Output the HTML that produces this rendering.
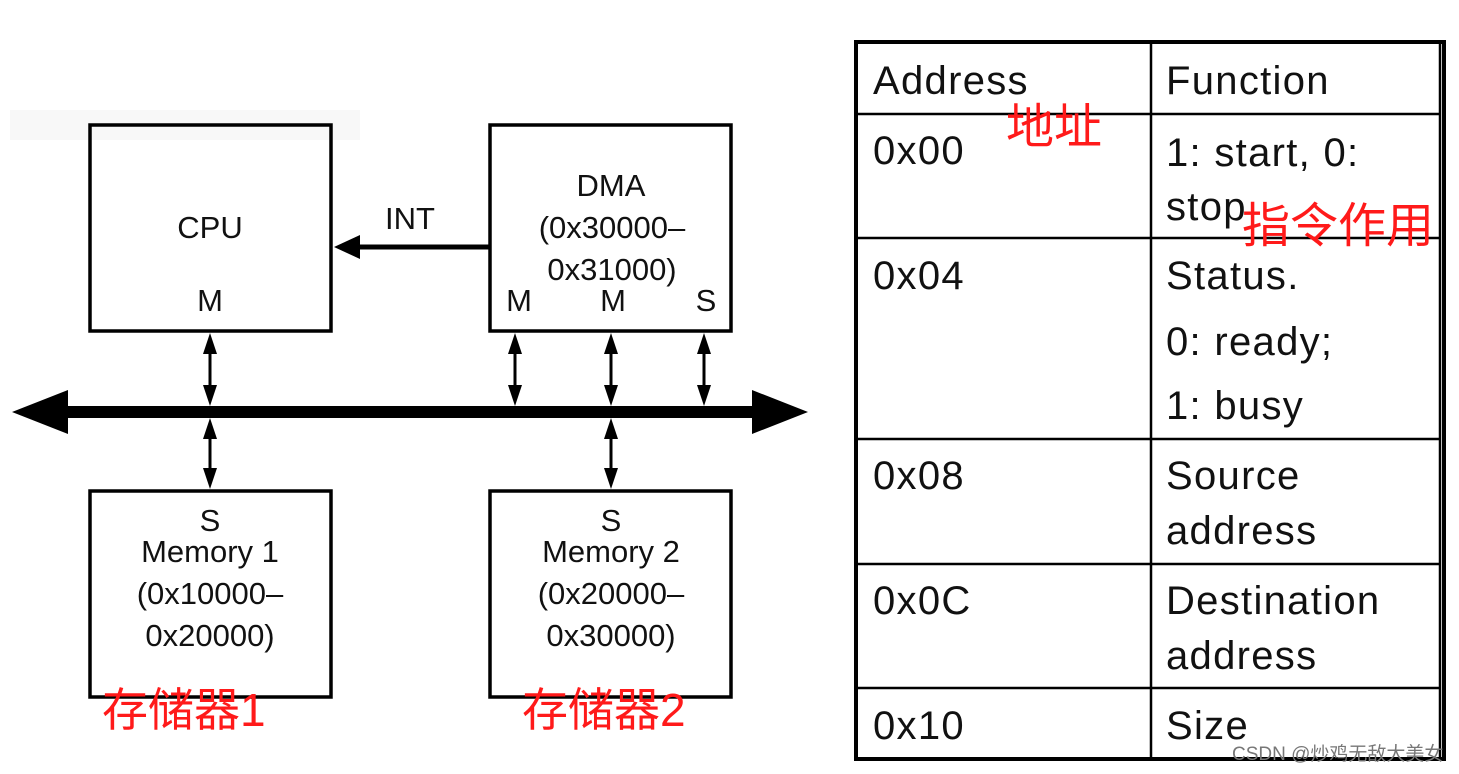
<!DOCTYPE html>
<html><head><meta charset="utf-8"><style>
html,body{margin:0;padding:0;background:#fff;}
svg{display:block;}
text{font-family:"Liberation Sans","Noto Sans CJK SC",sans-serif;}
</style></head><body>
<svg width="1459" height="774" viewBox="0 0 1459 774" xmlns="http://www.w3.org/2000/svg">
<rect x="0" y="0" width="1459" height="774" fill="#fff"/>
<rect x="10" y="110" width="350" height="30" fill="#f3f3f3" opacity="0.6"/>
<g fill="none" stroke="#000" stroke-width="3.5">
<rect x="90" y="125" width="241" height="206"/>
<rect x="490" y="125" width="241" height="206"/>
<rect x="90" y="491" width="241" height="206"/>
<rect x="490" y="491" width="241" height="206"/>
</g>
<rect x="60" y="406" width="700" height="12" fill="#000"/>
<polygon points="12,412 68,390 68,434" fill="#000"/>
<polygon points="808,412 752,390 752,434" fill="#000"/>
<line x1="490" y1="247" x2="358" y2="247" stroke="#000" stroke-width="5"/>
<polygon points="334,247 360,235 360,259" fill="#000"/>
<g stroke="#000" stroke-width="3">
<line x1="210" y1="345" x2="210" y2="398"/>
<line x1="515" y1="345" x2="515" y2="398"/>
<line x1="611" y1="345" x2="611" y2="398"/>
<line x1="704" y1="345" x2="704" y2="398"/>
<line x1="210" y1="426" x2="210" y2="477"/>
<line x1="611" y1="426" x2="611" y2="477"/>
</g>
<g fill="#000">
<polygon points="210,333 203,354 217,354"/><polygon points="210,406 203,385 217,385"/>
<polygon points="515,333 508,354 522,354"/><polygon points="515,406 508,385 522,385"/>
<polygon points="611,333 604,354 618,354"/><polygon points="611,406 604,385 618,385"/>
<polygon points="704,333 697,354 711,354"/><polygon points="704,406 697,385 711,385"/>
<polygon points="210,418 203,439 217,439"/><polygon points="210,489 203,468 217,468"/>
<polygon points="611,418 604,439 618,439"/><polygon points="611,489 604,468 618,468"/>
</g>
<g font-size="31" fill="#111" text-anchor="middle">
<text x="210" y="238">CPU</text>
<text x="210" y="311">M</text>
<text x="410" y="229">INT</text>
<text x="611" y="196">DMA</text>
<text x="612" y="238">(0x30000–</text>
<text x="612" y="280">0x31000)</text>
<text x="519" y="311">M</text>
<text x="613" y="311">M</text>
<text x="706" y="311">S</text>
<text x="210" y="531">S</text>
<text x="210" y="562">Memory 1</text>
<text x="210" y="604">(0x10000–</text>
<text x="210" y="646">0x20000)</text>
<text x="611" y="531">S</text>
<text x="611" y="562">Memory 2</text>
<text x="611" y="604">(0x20000–</text>
<text x="611" y="646">0x30000)</text>
</g>
<rect x="856" y="42" width="588" height="717" fill="none" stroke="#000" stroke-width="4"/>
<g stroke="#000" stroke-width="2.5">
<line x1="1151" y1="42" x2="1151" y2="759"/>
<line x1="1440" y1="42" x2="1440" y2="759"/>
<line x1="856" y1="114" x2="1440" y2="114"/>
<line x1="856" y1="238" x2="1440" y2="238"/>
<line x1="856" y1="439" x2="1440" y2="439"/>
<line x1="856" y1="564" x2="1440" y2="564"/>
<line x1="856" y1="688" x2="1440" y2="688"/>
</g>
<g font-size="40" fill="#111" letter-spacing="1.3">
<text x="873" y="94">Address</text>
<text x="1166" y="94">Function</text>
<text x="873" y="164">0x00</text>
<text x="1166" y="166">1: start, 0:</text>
<text x="1166" y="220">stop</text>
<text x="873" y="289">0x04</text>
<text x="1166" y="289">Status.</text>
<text x="1166" y="355">0: ready;</text>
<text x="1166" y="419">1: busy</text>
<text x="873" y="489">0x08</text>
<text x="1166" y="489">Source</text>
<text x="1166" y="544">address</text>
<text x="873" y="614">0x0C</text>
<text x="1166" y="614">Destination</text>
<text x="1166" y="669">address</text>
<text x="873" y="739">0x10</text>
<text x="1166" y="739">Size</text>
</g>
<g fill="#ff1a1a">
<text x="1006" y="143" font-size="48">地址</text>
<text x="1242" y="242" font-size="48">指令作用</text>
<text x="102" y="726" font-size="46">存储器1</text>
<text x="522" y="726" font-size="46">存储器2</text>
</g>
<text x="1232" y="760" font-size="19" fill="#777">CSDN @炒鸡无敌大美女</text>
</svg>
</body></html>
